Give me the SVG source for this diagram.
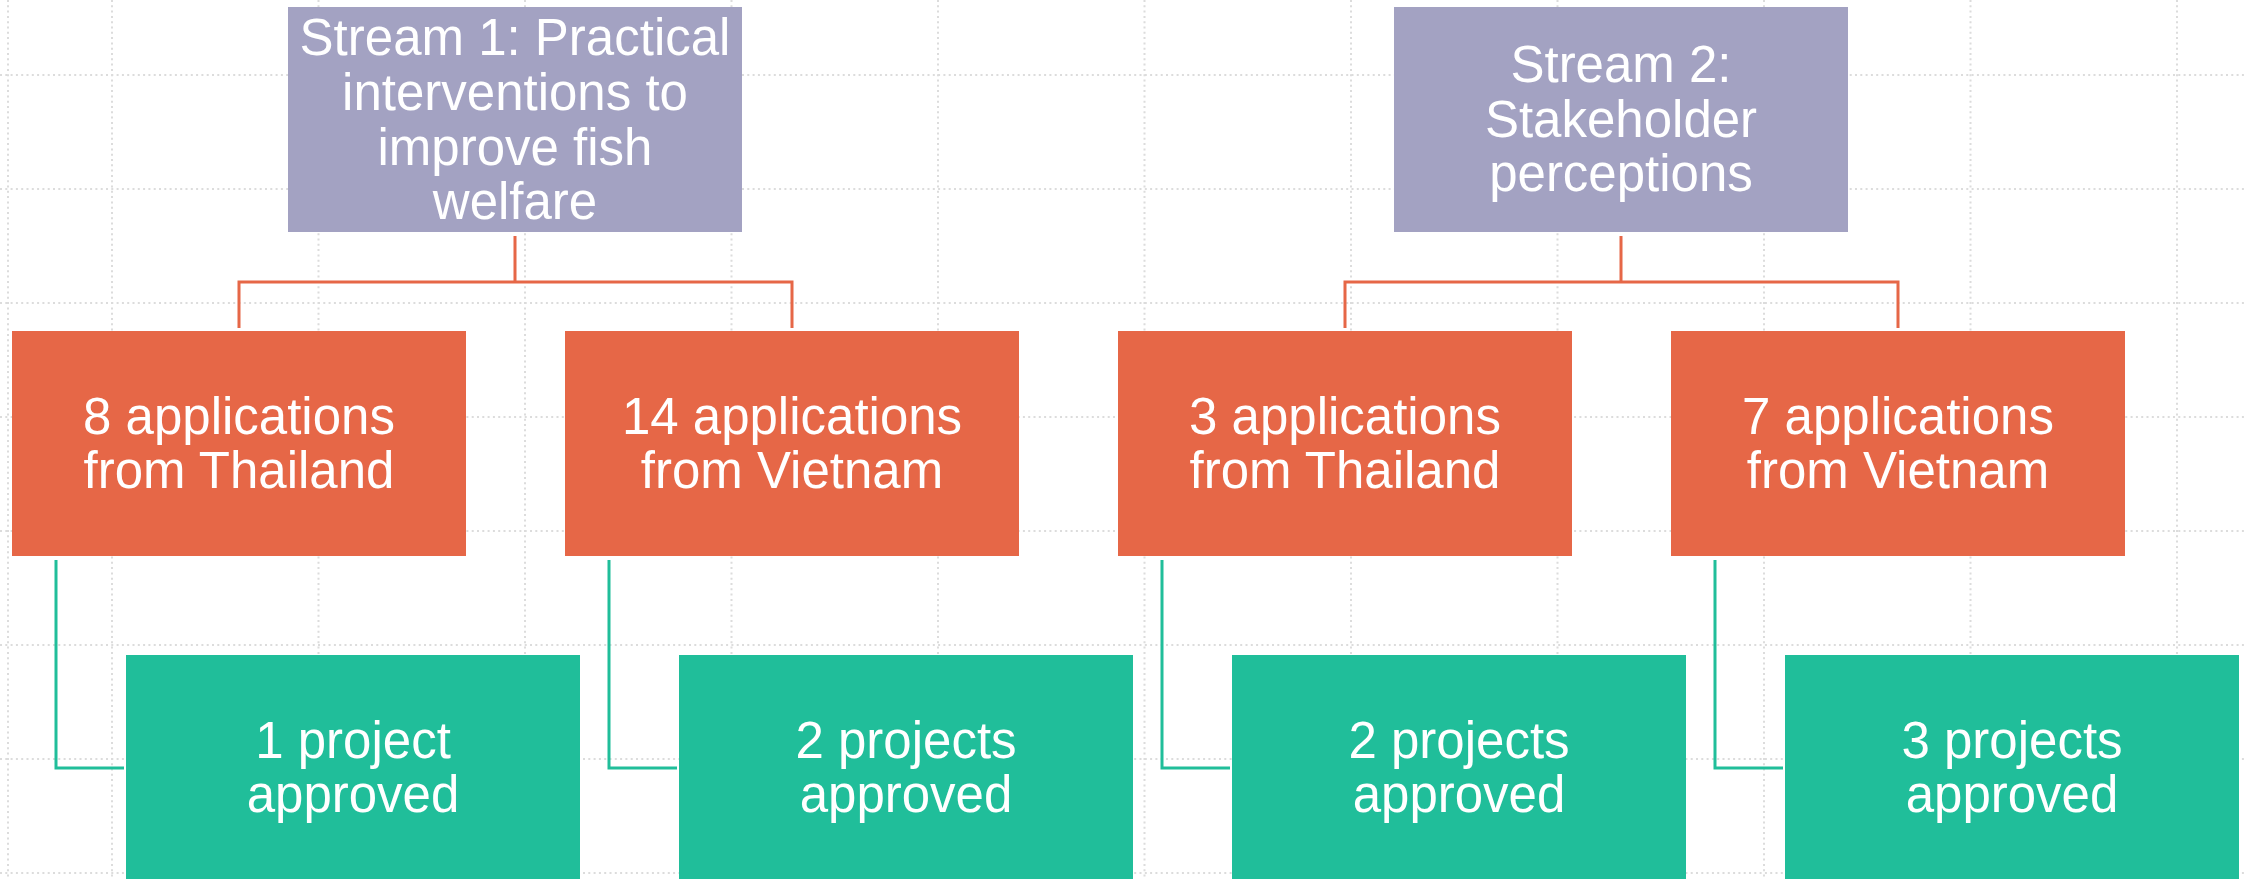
<svg xmlns="http://www.w3.org/2000/svg" width="2246" height="879" viewBox="0 0 2246 879">
<style>
.grid line{stroke:#DCDCDC;stroke-width:2;stroke-dasharray:2 3.3}
.stream{fill:#A3A2C2}
.app{fill:#E66747}
.proj{fill:#20BE9A}
.t{font-family:"Liberation Sans",Arial,sans-serif;font-size:51px;fill:#FFFFFF;text-anchor:middle}
.co{fill:none;stroke:#E66747;stroke-width:3}
.cg{fill:none;stroke:#20BE9A;stroke-width:3}
</style>
<rect width="2246" height="879" fill="#FFFFFF"/>
<g class="grid">
<line x1="8" y1="0" x2="8" y2="879"/>
<line x1="112" y1="0" x2="112" y2="879"/>
<line x1="318.5" y1="0" x2="318.5" y2="879"/>
<line x1="525" y1="0" x2="525" y2="879"/>
<line x1="731.5" y1="0" x2="731.5" y2="879"/>
<line x1="938" y1="0" x2="938" y2="879"/>
<line x1="1144.5" y1="0" x2="1144.5" y2="879"/>
<line x1="1351" y1="0" x2="1351" y2="879"/>
<line x1="1557.5" y1="0" x2="1557.5" y2="879"/>
<line x1="1764" y1="0" x2="1764" y2="879"/>
<line x1="1970.5" y1="0" x2="1970.5" y2="879"/>
<line x1="2177" y1="0" x2="2177" y2="879"/>
<line x1="0" y1="75" x2="2246" y2="75"/>
<line x1="0" y1="189" x2="2246" y2="189"/>
<line x1="0" y1="303" x2="2246" y2="303"/>
<line x1="0" y1="417" x2="2246" y2="417"/>
<line x1="0" y1="531" x2="2246" y2="531"/>
<line x1="0" y1="645" x2="2246" y2="645"/>
<line x1="0" y1="759" x2="2246" y2="759"/>
<line x1="0" y1="873" x2="2246" y2="873"/>
</g>
<g id="connectors">
<path class="co" d="M515 236V282M239 328V282H792V328"/>
<path class="co" d="M1621 236V282M1345 328V282H1898V328"/>
<path class="cg" d="M56 560V768H124"/>
<path class="cg" d="M609 560V768H677"/>
<path class="cg" d="M1162 560V768H1230"/>
<path class="cg" d="M1715 560V768H1783"/>
</g>
<g id="stream1">
<rect class="stream" x="288" y="7" width="454" height="225"/>
<text class="t" x="515" y="55">Stream 1: Practical</text>
<text class="t" x="515" y="110">interventions to</text>
<text class="t" x="515" y="164.5">improve fish</text>
<text class="t" x="515" y="219">welfare</text>
</g>
<g id="stream2">
<rect class="stream" x="1394" y="7" width="454" height="225"/>
<text class="t" x="1621" y="82">Stream 2:</text>
<text class="t" x="1621" y="136.5">Stakeholder</text>
<text class="t" x="1621" y="191">perceptions</text>
</g>
<g id="app1">
<rect class="app" x="12" y="331" width="454" height="225"/>
<text class="t" x="239" y="433.5">8 applications</text>
<text class="t" x="239" y="488">from Thailand</text>
</g>
<g id="app2">
<rect class="app" x="565" y="331" width="454" height="225"/>
<text class="t" x="792" y="433.5">14 applications</text>
<text class="t" x="792" y="488">from Vietnam</text>
</g>
<g id="app3">
<rect class="app" x="1118" y="331" width="454" height="225"/>
<text class="t" x="1345" y="433.5">3 applications</text>
<text class="t" x="1345" y="488">from Thailand</text>
</g>
<g id="app4">
<rect class="app" x="1671" y="331" width="454" height="225"/>
<text class="t" x="1898" y="433.5">7 applications</text>
<text class="t" x="1898" y="488">from Vietnam</text>
</g>
<g id="proj1">
<rect class="proj" x="126" y="655" width="454" height="230"/>
<text class="t" x="353" y="757.5">1 project</text>
<text class="t" x="353" y="812">approved</text>
</g>
<g id="proj2">
<rect class="proj" x="679" y="655" width="454" height="230"/>
<text class="t" x="906" y="757.5">2 projects</text>
<text class="t" x="906" y="812">approved</text>
</g>
<g id="proj3">
<rect class="proj" x="1232" y="655" width="454" height="230"/>
<text class="t" x="1459" y="757.5">2 projects</text>
<text class="t" x="1459" y="812">approved</text>
</g>
<g id="proj4">
<rect class="proj" x="1785" y="655" width="454" height="230"/>
<text class="t" x="2012" y="757.5">3 projects</text>
<text class="t" x="2012" y="812">approved</text>
</g>
</svg>
